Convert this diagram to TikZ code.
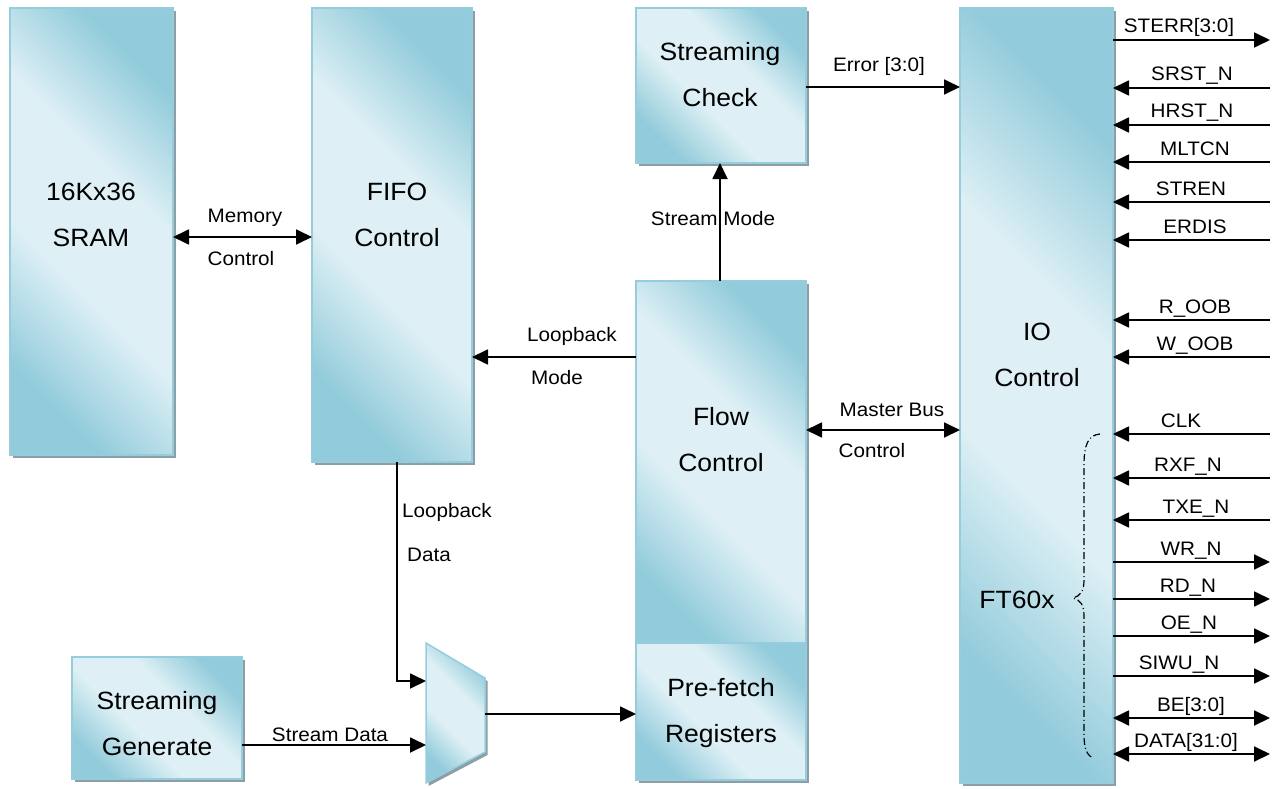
\documentclass[tikz,border=0pt]{standalone}
\usepackage{fontspec}
\setmainfont{Liberation Sans}[FakeStretch=1.06]
\usetikzlibrary{arrows.meta,shadows}
\definecolor{dk}{RGB}{146,203,219}
\definecolor{lt}{RGB}{222,240,245}
\definecolor{bdr}{RGB}{150,205,221}
\definecolor{shd}{RGB}{140,158,166}
\pgfdeclareverticalshading{blkshade}{100bp}{color(0bp)=(dk); color(25bp)=(dk); color(41bp)=(lt); color(58bp)=(lt); color(75bp)=(dk); color(100bp)=(dk)}
\begin{document}
\begin{tikzpicture}[x=1pt,y=-1pt,
 >={Triangle[length=16pt 0 0,width=15pt 0 0]},
 blkfill/.style={draw=bdr,line width=1.5pt,shade,shading=blkshade,shading angle=135,
   drop shadow={shadow xshift=2.5pt,shadow yshift=-3pt,fill=shd,opacity=1}},
 blk/.style={blkfill,anchor=north west,inner sep=0pt,outer sep=0pt},
 big/.style={font=\fontsize{25}{46}\selectfont,align=center,inner sep=0pt},
 lbl/.style={font=\fontsize{19.5}{23}\selectfont,inner sep=0pt,anchor=base},
 conn/.style={line width=1.8pt},
 bracestyle/.style={line width=1.2pt,dash pattern=on 7pt off 3pt on 1pt off 3pt}]
\useasboundingbox (0,0) rectangle (1274,789);

% blocks
\node[blk,minimum width=163,minimum height=447] (sram) at (10,8) {};
\node[blk,minimum width=160,minimum height=454] (fifo) at (312,8) {};
\node[blk,minimum width=170,minimum height=155] (check) at (636,8) {};
\node[blk,minimum width=170,minimum height=364] (flow) at (636,281) {};
\node[blk,minimum width=170,minimum height=137] (pref) at (636,643) {};
\node[blk,minimum width=153,minimum height=775] (io) at (960,8) {};
\node[blk,minimum width=170,minimum height=122] (gen) at (72,657) {};

% mux
\path[blkfill] (426,643) -- (485,678) -- (485,752) -- (426,783) -- cycle;
\coordinate (muxa) at (426,681);
\coordinate (muxb) at (426,745);
\coordinate (muxo) at (485,714);

% block texts
\node[big] (tsram) at (91,215) {16Kx36\\SRAM};
\node[big] (tfifo) at (397,215) {FIFO\\Control};
\node[big] (tcheck) at (720,75) {Streaming\\Check};
\node[big] (tflow) at (721,440) {Flow\\Control};
\node[big] (tpref) at (721,713) {Pre-fetch\\Registers};
\node[big] (tgen) at (157,724) {Streaming\\Generate};
\node[big] (tio) at (1037,355) {IO\\Control};
\node[big] (tft) at (1017,600) {FT60x};

% connectors
\draw[conn,<->] (sram.east |- 0,237) -- (fifo.west |- 0,237);
\node[lbl] (lmem1) at (245,222) {Memory};
\node[lbl] (lmem2) at (241,265) {Control};

\draw[conn,->] (flow.west |- 0,357) -- (fifo.east |- 0,357);
\node[lbl] (llm1) at (572,341) {Loopback};
\node[lbl] (llm2) at (557,384) {Mode};

\draw[conn,->] (flow.north -| 720,0) -- (check.south -| 720,0);
\node[lbl] (lsm) at (713,225) {Stream Mode};

\draw[conn,->] (check.east |- 0,87) -- (io.west |- 0,87);
\node[lbl] (lerr) at (879,72) {Error [3:0]};

\draw[conn,<->] (flow.east |- 0,430) -- (io.west |- 0,430);
\node[lbl] (lmb1) at (892,416) {Master Bus};
\node[lbl] (lmb2) at (872,457) {Control};

\draw[conn,->] (fifo.south -| 397,0) |- (muxa);
\node[lbl] (lld1) at (447,517) {Loopback};
\node[lbl] (lld2) at (429,561) {Data};

\draw[conn,->] (gen.east |- muxb) -- (muxb);
\node[lbl] (lsd) at (330,741) {Stream Data};

\draw[conn,->] (muxo) -- (pref.west |- muxo);

% IO signals
\foreach \y/\t/\x in {40/STERR[3:0]/1179, 562/WR\_N/1191, 599/RD\_N/1188, 636/OE\_N/1189, 676/SIWU\_N/1179}{
  \draw[conn,->] (io.east |- 0,\y) -- ++(157,0);
  \node[lbl] (o\y) at (\x,\y-7) {\t};
}
\foreach \y/\t/\x in {88/SRST\_N/1192, 125/HRST\_N/1192, 162/MLTCN/1195, 202/STREN/1191, 240/ERDIS/1195, 320/R\_OOB/1195, 357/W\_OOB/1195, 434/CLK/1181, 478/RXF\_N/1188, 520/TXE\_N/1196}{
  \draw[conn,<-] (io.east |- 0,\y) -- ++(157,0);
  \node[lbl] (i\y) at (\x,\y-7) {\t};
}
\foreach \y/\t/\x in {718/BE[3:0]/1191, 754/DATA[31:0]/1186}{
  \draw[conn,<->] (io.east |- 0,\y) -- ++(157,0);
  \node[lbl] (b\y) at (\x,\y-7) {\t};
}

% brace
\draw[bracestyle] (1100,434) .. controls (1088,435) and (1084,445) .. (1084,465) -- (1084,580)
  .. controls (1084,592) and (1080,596) .. (1073,598)
  .. controls (1080,600) and (1084,604) .. (1084,616) -- (1084,735)
  .. controls (1084,750) and (1088,756) .. (1093,758);
\end{tikzpicture}
\end{document}
